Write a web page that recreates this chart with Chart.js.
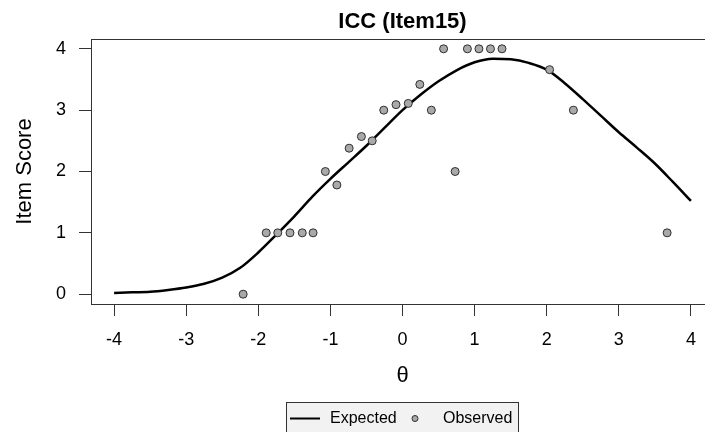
<!DOCTYPE html>
<html>
<head>
<meta charset="utf-8">
<script src="https://cdn.jsdelivr.net/npm/chart.js@4.4.1/dist/chart.umd.min.js"></script>
<style>
  html, body { margin: 0; padding: 0; background: #ffffff; overflow: hidden; }
  #wrap { width: 705px; height: 432px; overflow: hidden; position: relative; }
  #icc { position: absolute; left: 0; top: 0; }
</style>
</head>
<body>
<div id="wrap"><canvas id="icc" width="719" height="432"></canvas></div>
<script>
// Expected item score curve (theta grid and fitted expected score)
const thetaExpected = [-4.0, -3.75, -3.5, -3.25, -3.0, -2.75, -2.5, -2.25, -2.0, -1.75, -1.5, -1.25,
                       -1.0, -0.75, -0.5, -0.25, 0.0, 0.25, 0.5, 0.75, 1.0, 1.25, 1.5, 1.75,
                       2.0, 2.25, 2.5, 2.75, 3.0, 3.25, 3.5, 3.75, 4.0];
const scoreExpected = [0.02, 0.03, 0.04, 0.07, 0.11, 0.17, 0.27, 0.43, 0.68, 0.97, 1.27, 1.59,
                       1.88, 2.15, 2.42, 2.71, 3.00, 3.25, 3.47, 3.65, 3.78, 3.84, 3.83, 3.77,
                       3.66, 3.44, 3.18, 2.91, 2.64, 2.39, 2.13, 1.83, 1.52];

// Observed mean item scores by theta group
const thetaObserved = [-2.21, -1.89, -1.73, -1.56, -1.39, -1.24, -1.07, -0.91, -0.74, -0.57,
                       -0.42, -0.26, -0.09, 0.08, 0.24, 0.40, 0.57, 0.73, 0.90, 1.06,
                       1.22, 1.38, 2.04, 2.37, 3.67];
const scoreObserved = [0, 1, 1, 1, 1, 1, 2, 1.78, 2.38, 2.57,
                       2.50, 3.00, 3.09, 3.11, 3.42, 3.00, 4, 2, 4, 4,
                       4, 4, 3.66, 3.00, 1];

// Axis ticks and text
const xTickValues = [-4, -3, -2, -1, 0, 1, 2, 3, 4];
const yTickValues = [0, 1, 2, 3, 4];
const chartTitle = 'ICC (Item15)';
const xTitle = 'θ';
const yTitle = 'Item Score';

const FONT = '"Liberation Sans", Arial, sans-serif';
const AXIS_COLOR = '#333333';

const toPoints = (xs, ys) => xs.map((x, i) => ({ x: x, y: ys[i] }));

// Plot box, centred title and boxed legend
const frameAndLegend = {
  id: 'frameAndLegend',
  beforeDraw(chart) {
    const { ctx, chartArea: a } = chart;
    ctx.save();
    ctx.strokeStyle = AXIS_COLOR;
    ctx.lineWidth = 1;
    ctx.strokeRect(Math.round(a.left) + 0.5, Math.round(a.top) + 0.5,
                   Math.round(a.right - a.left), Math.round(a.bottom - a.top));
    ctx.restore();
  },
  afterDraw(chart) {
    const { ctx } = chart;
    const xs = chart.scales.x;
    ctx.save();
    // title
    ctx.fillStyle = '#000';
    ctx.font = 'bold 22px ' + FONT;
    ctx.textAlign = 'center';
    ctx.textBaseline = 'alphabetic';
    ctx.fillText(chartTitle, xs.getPixelForValue(0), 28);

    // legend
    const ds = chart.data.datasets;
    const lx = 286.5, ly = 402.5, lw = 232, lh = 40;
    ctx.fillStyle = '#f2f2f2';
    ctx.fillRect(lx, ly, lw, lh);
    ctx.strokeStyle = AXIS_COLOR;
    ctx.lineWidth = 1;
    ctx.strokeRect(lx, ly, lw, lh);

    ctx.strokeStyle = '#000';
    ctx.lineWidth = 2;
    ctx.beginPath();
    ctx.moveTo(290, 418.5);
    ctx.lineTo(320, 418.5);
    ctx.stroke();

    ctx.beginPath();
    ctx.arc(415, 418.5, 3, 0, Math.PI * 2);
    ctx.fillStyle = ds[1].backgroundColor;
    ctx.fill();
    ctx.strokeStyle = ds[1].borderColor;
    ctx.lineWidth = 1;
    ctx.stroke();

    ctx.fillStyle = '#000';
    ctx.font = '16px ' + FONT;
    ctx.textAlign = 'left';
    ctx.textBaseline = 'middle';
    ctx.fillText(ds[0].label, 330, 419);
    ctx.fillText(ds[1].label, 443, 419);
    ctx.restore();
  }
};

new Chart(document.getElementById('icc'), {
  type: 'scatter',
  data: {
    datasets: [
      {
        type: 'line',
        label: 'Expected',
        data: toPoints(thetaExpected, scoreExpected),
        borderColor: '#000000',
        borderWidth: 2.5,
        pointRadius: 0,
        cubicInterpolationMode: 'monotone',
        fill: false,
        order: 2
      },
      {
        label: 'Observed',
        data: toPoints(thetaObserved, scoreObserved),
        backgroundColor: '#a9a9a9',
        borderColor: '#2e2e2e',
        borderWidth: 1,
        pointRadius: 4,
        order: 1
      }
    ]
  },
  options: {
    responsive: false,
    animation: false,
    devicePixelRatio: 1,
    layout: { padding: { top: 39, left: 0, right: 0, bottom: 0 } },
    plugins: {
      legend: { display: false },
      title: { display: false },
      tooltip: { enabled: false }
    },
    scales: {
      x: {
        type: 'linear',
        min: -4.32,
        max: 4.32,
        afterBuildTicks: s => { s.ticks = xTickValues.map(v => ({ value: v })); },
        afterFit: s => { s.height = 128; },
        ticks: {
          color: '#000',
          font: { family: FONT, size: 18 },
          padding: 13,
          maxRotation: 0,
          autoSkip: false
        },
        grid: { drawOnChartArea: false, drawTicks: true, tickLength: 12, tickColor: AXIS_COLOR },
        border: { display: false },
        title: {
          display: true,
          text: xTitle,
          color: '#000',
          font: { family: FONT, size: 22 },
          padding: { top: 0, bottom: 43 }
        }
      },
      y: {
        type: 'linear',
        min: -0.16,
        max: 4.16,
        afterBuildTicks: s => { s.ticks = yTickValues.map(v => ({ value: v })); },
        afterFit: s => { s.width = 91; },
        ticks: {
          color: '#000',
          font: { family: FONT, size: 18 },
          padding: 13
        },
        grid: { drawOnChartArea: false, drawTicks: true, tickLength: 12, tickColor: AXIS_COLOR },
        border: { display: false },
        title: {
          display: true,
          text: yTitle,
          color: '#000',
          font: { family: FONT, size: 22 },
          padding: { top: 12, bottom: 0 }
        }
      }
    }
  },
  plugins: [frameAndLegend]
});
</script>
</body>
</html>
